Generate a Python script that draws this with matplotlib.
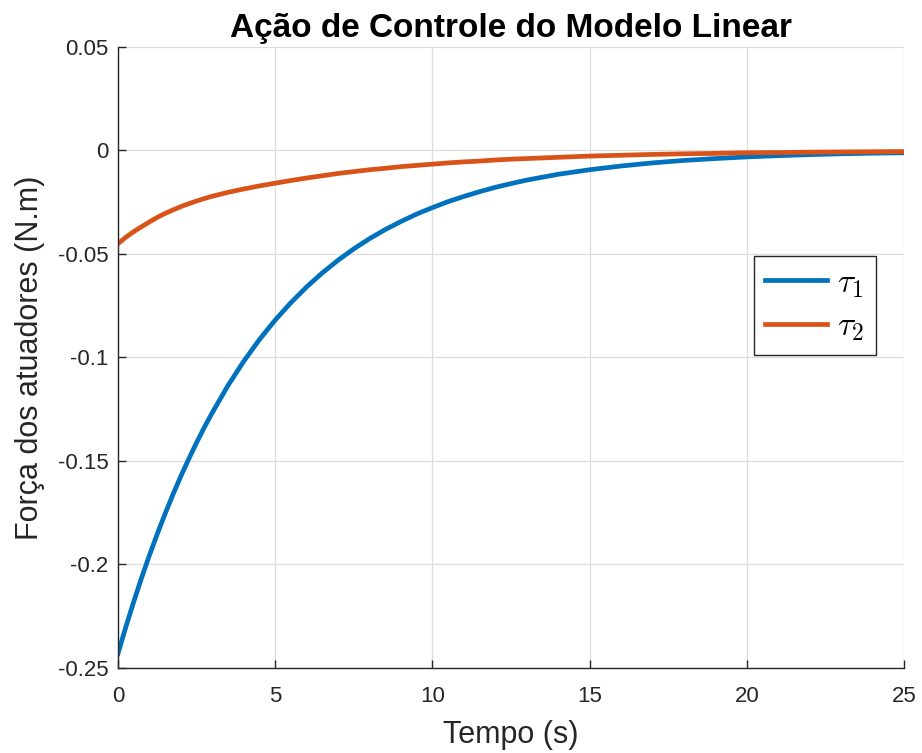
import matplotlib
matplotlib.use("Agg")
import matplotlib.pyplot as plt
from matplotlib.ticker import FuncFormatter

plt.rcParams['font.family'] = ['Liberation Sans', 'DejaVu Sans']
plt.rcParams['mathtext.fontset'] = 'cm'

# valores
tempo = [0, 0.25, 0.5, 0.75, 1, 1.25, 1.5, 1.75, 2, 2.25, 2.5, 2.75, 3,
         3.5, 4, 4.5, 5, 5.5, 6, 6.5, 7, 7.5, 8, 8.5, 9, 9.5, 10, 10.5, 11,
         11.5, 12, 12.5, 13, 13.5, 14, 14.5, 15, 16, 17, 18, 19, 20, 21, 22,
         23, 24, 25]
tau1 = [-0.2430, -0.2301, -0.2180, -0.2064, -0.1955, -0.1852, -0.1754,
        -0.1661, -0.1573, -0.1490, -0.1411, -0.1336, -0.1266, -0.1135,
        -0.1018, -0.0913, -0.0819, -0.0735, -0.0659, -0.0591, -0.0530,
        -0.0475, -0.0426, -0.0382, -0.0343, -0.0307, -0.0276, -0.0247,
        -0.0222, -0.0199, -0.0178, -0.0160, -0.0143, -0.0129, -0.0115,
        -0.0104, -0.0093, -0.0075, -0.0060, -0.0048, -0.0039, -0.0031,
        -0.0025, -0.0020, -0.0016, -0.0013, -0.0011]
tau2 = [-0.0450, -0.0419, -0.0392, -0.0368, -0.0345, -0.0323, -0.0304,
        -0.0287, -0.0271, -0.0257, -0.0244, -0.0232, -0.0221, -0.0202,
        -0.0186, -0.0171, -0.0158, -0.0145, -0.0133, -0.0122, -0.0111,
        -0.0102, -0.0093, -0.0086, -0.0078, -0.0072, -0.0066, -0.0060,
        -0.0055, -0.0051, -0.0046, -0.0042, -0.0039, -0.0036, -0.0033,
        -0.0030, -0.0027, -0.0023, -0.0019, -0.0016, -0.0014, -0.0011,
        -0.0010, -0.0008, -0.0007, -0.0006, -0.0005]
xticks = [0, 5, 10, 15, 20, 25]
yticks = [0.05, 0, -0.05, -0.1, -0.15, -0.2, -0.25]

fig = plt.figure(figsize=(9.22, 7.53), dpi=100)
ax = fig.add_axes([0.128, 0.1129, 0.8525, 0.8247])

ax.plot(tempo, tau1, color='#0072BD', lw=3.4, label=r'$\tau_1$')
ax.plot(tempo, tau2, color='#D95319', lw=3.4, label=r'$\tau_2$')

ax.set_xlim(0, 25)
ax.set_ylim(-0.25, 0.05)
ax.set_xticks(xticks)
ax.set_yticks(yticks)
ax.yaxis.set_major_formatter(FuncFormatter(lambda v, p: '%g' % round(v, 3)))
ax.grid(True, color='#dcdcdc', lw=0.9)
ax.set_axisbelow(True)
for s in ['top', 'right']:
    ax.spines[s].set_visible(False)
for s in ['left', 'bottom']:
    ax.spines[s].set_color('#262626')
    ax.spines[s].set_linewidth(1.0)
ax.tick_params(direction='in', length=6, width=1.0, colors='#262626',
               labelsize=16)
ax.tick_params(axis='x', pad=13)
ax.tick_params(axis='y', pad=7)

ax.set_title('Ação de Controle do Modelo Linear', fontsize=24,
             fontweight='bold', pad=7)
ax.set_xlabel('Tempo (s)', fontsize=22, color='#262626', labelpad=9)
ax.set_ylabel('Força dos atuadores (N.m)', fontsize=22, color='#262626',
              labelpad=9)

leg = ax.legend(loc='upper right', bbox_to_anchor=(0.964, 0.663),
                borderaxespad=0, fontsize=24, fancybox=False, framealpha=1,
                edgecolor='#262626', handlelength=1.85, labelspacing=0.35,
                borderpad=0.35, handletextpad=0.3)
leg.get_frame().set_linewidth(1.0)

fig.savefig('out.png', dpi=100)
